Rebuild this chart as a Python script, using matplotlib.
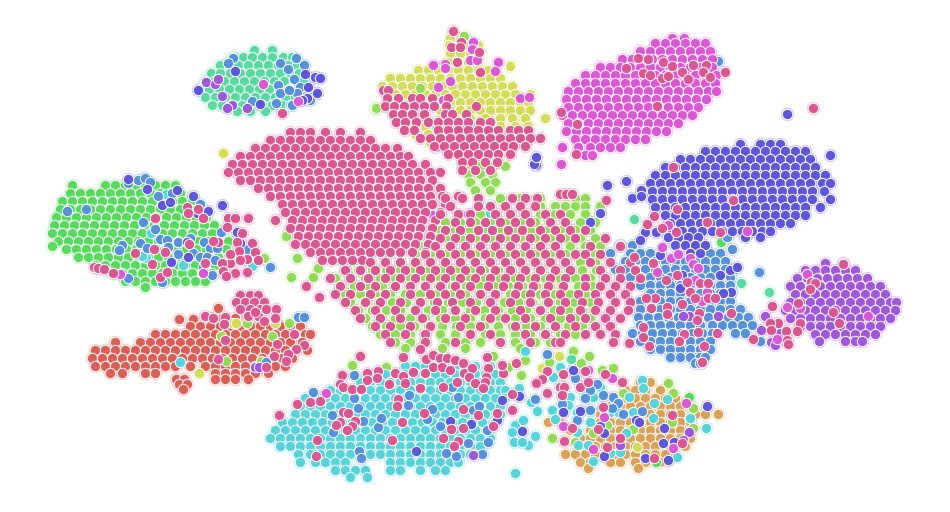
import matplotlib
matplotlib.use("Agg")
import matplotlib.pyplot as plt
import seaborn as sns

red = [(308,[218]),(319,[179,193]),(318,[210,222,235,248]),(326,[190,200,210,220,230,240,250,260,270,280,290,300]),
(334,[155,165,175,185,195,205,215,225,235,245,255,265,275,285,295,305,310]),
(342,[115,140,150,160,170,180,190,200,210,220,230,240,250,260,270,280,290,302]),
(350,[95,105,115,125,135,145,155,165,175,185,195,205,215,225,235,245,255,265,275,285,295,307]),
(358,[92,102,112,122,132,142,152,162,172,182,192,202,212,222,232,242,252,262,272,282,292]),
(366,[95,105,115,125,135,145,155,165,175,190,205,215,225,235,245,255,265,275,285]),
(373,[110,122,145,155,215,225,235,245,255,268]),(379,[215,225,235,248,176,184]),(384,[179,187]),(389,[183])]

orange = [(382,[640,650]),(390,[625,635,645,660]),(398,[615,625,635,645,655,665,675]),
(406,[610,620,630,640,650,660,670,680,690]),(414,[600,610,620,630,640,650,660,670,680,695,705,718]),
(422,[548,560,600,610,620,630,640,650,660,670,680,690]),(430,[570,590,600,610,620,630,640,650,660,670,680]),
(438,[580,590,600,610,620,630,640,650,660,670,680,690]),(446,[585,595,605,615,625,635,645,655,665,675,685]),
(454,[565,575,585,595,605,615,625,635,645,655,665]),(462,[580,590,610,620,635,645,660]),(468,[588,638])]

yellow = [(38,[450]),(45,[449,459,470,478]),(53,[450,460,470,480]),(62,[448,458,468,478]),(66,[510]),
(70,[418,428,438,448,458,468,478,488]),(78,[390,400,410,420,430,440,450,460,470,480,490,500]),
(86,[382,392,402,412,422,432,442,452,462,472,482,492,502,512]),
(94,[395,405,415,425,435,445,455,465,475,485,495,505,515,530]),
(102,[420,430,440,450,460,470,480,490,500,510,520,528]),(110,[440,450,460,470,480,490,500,510,520,530]),
(118,[445,455,470,485,500,512,525,545]),(126,[412,425,440,452,500,515,528]),(134,[415,428,440,520]),(142,[430,510]),
(153,[223]),(323,[232,236,275]),(373,[199]),(356,[559]),(368,[542]),(447,[637])]

lime = [(36,[464]),(88,[420]),(108,[375,376]),(103,[436]),(150,[468,478]),(158,[466,478,488,496]),(166,[465,480,490,505]),
(174,[468,480,492]),(182,[470,485,495]),(190,[475,490]),(198,[500,520,540,575,585]),
(206,[540,555,565,575,585,600]),(214,[480,495,510,525,540,555,570,585,600]),
(222,[445,460,475,490,505,520,535,550,565,580,595]),(230,[440,455,470,485,500,515,530,545,560,575,590]),
(238,[430,445,460,475,490,505,520,535,550,565,580,595]),(246,[420,435,450,465,480,495,510,525,540,555,570,585,600]),
(254,[400,415,430,445,460,475,490,505,520,535,550,565,580,595]),
(262,[355,370,385,400,415,430,445,460,475,490,505,520,535,550,565,580,595]),
(270,[345,358,372,386,400,414,428,442,456,470,484,498,512,526,540,554,568,582,596]),
(278,[335,350,365,380,395,410,425,440,455,470,485,500,515,530,545,560,575,590,605]),
(286,[340,354,368,382,396,410,424,438,452,466,480,494,508,522,536,550,564,578,592]),
(294,[345,360,375,390,405,420,435,450,465,480,495,510,525,540,555,570,585]),
(302,[350,364,378,392,406,420,434,448,462,476,490,504,518,532,546,560,574,590]),
(310,[358,372,386,400,414,428,442,456,470,484,498,512,526,540,554,568,582]),
(318,[365,380,395,410,425,440,455,470,485,500,515,530,545,560,575,590]),
(326,[372,386,400,414,428,442,456,470,484,498,512,526,540,554,568,582]),
(334,[380,395,410,425,440,455,470,485,500,515,530,545,560,575]),
(342,[395,410,425,445,465,480,500,515,535,550]),(348,[405,442,465,520]),
(258,[264,297]),(277,[291,313]),(268,[318]),(236,[286]),(323,[247,289]),(336,[221,272]),(361,[226,261]),
(365,[352]),(367,[386,508]),(356,[493,589]),(360,[525]),(375,[521]),(351,[573]),(362,[549]),(363,[581]),
(438,[552]),(393,[673,623]),(408,[693]),(429,[633]),(425,[607]),(422,[672]),(368,[613]),(370,[602]),(433,[593]),(442,[575]),(383,[668]),(428,[693])]

green = [(185,[72,105,115,125,135,145,155,165,175]),(193,[70,80,90,100,110,120,130,140,150,160,170,180]),
(201,[62,72,82,92,102,112,122,132,142,152,162,172,182,192]),(209,[60,70,80,90,100,110,120,130,140,150,160,170,180,190,200]),
(217,[56,66,76,86,96,106,116,126,136,146,156,166,176,186,196,206]),
(225,[54,64,74,84,94,104,114,124,134,144,154,164,174,184,194,204,214]),
(233,[52,62,72,82,92,102,112,122,132,142,152,162,172,182,192,202,212,222]),
(241,[58,68,78,88,98,108,118,128,138,148,158,168,178,188,198,208,218,228]),(246,[52]),
(249,[66,76,86,96,106,116,126,136,146,156,166,176,186,196,206,216,226]),
(257,[78,88,98,108,118,128,138,148,158,168,178,188,198,208,218,230]),
(265,[95,105,115,125,135,145,155,165,175,185,195,205,215]),(273,[112,122,132,142,152,162,172,182,192,202,212]),
(281,[125,135,145,155,165,175,185,195,205]),(287,[145]),(242,[721]),(462,[656]),(397,[689])]

teal = [(50,[254,272]),(57,[232,243,252,262,272,283,292]),(65,[220,229,238,248,258,268,278,288,297]),
(73,[211,220,230,240,250,260,270,280,290,299]),(81,[205,214,224,234,244,254,264,274,284,294,303]),
(89,[200,209,219,229,239,249,259,269,279,289,298]),(97,[205,215,225,235,245,255,265,275,285,295]),
(105,[212,222,232,242,252,262,272,282,290]),(111,[237,250,265]),(219,[634]),(283,[741]),(292,[769]),(359,[571])]

cyan = [(366,[405,415,425,435,445,455,475,490]),(374,[385,395,405,415,425,435,445,455,465,475,485,495]),
(382,[340,360,370,380,390,400,410,420,430,440,450,460,470,480,490,500]),
(390,[330,340,350,360,370,380,390,400,410,420,430,440,450,460,470,480,490,500,505]),
(398,[305,315,325,335,345,355,365,375,385,395,405,415,425,435,445,455,465,475,485,495,505]),
(406,[300,310,320,330,340,350,360,370,380,390,400,410,420,430,440,450,460,470,480,490,500]),
(414,[295,305,315,325,335,345,355,365,375,385,395,405,415,425,435,445,455,465,475,485,500]),
(422,[282,292,302,312,322,332,342,352,362,372,382,392,402,412,422,432,442,452,462,472,482,495]),
(430,[275,285,295,305,315,325,335,345,355,365,375,385,395,405,415,425,435,445,455,465,475,490]),
(438,[270,280,290,300,310,320,330,340,350,360,370,380,390,400,410,420,430,440,450,460,470,480,490]),
(446,[280,290,300,310,320,330,340,350,360,370,380,390,400,410,420,430,440,450,460,470,480]),
(454,[298,310,320,330,340,350,360,370,380,390,400,410,420,430,440,450,460,470]),
(462,[300,315,325,335,345,390,400,410,420,430,440,450,458]),(470,[335,345,355,365,390,400,420,435,445]),(477,[350,367]),
(351,[525]),(473,[515]),(441,[520]),(445,[528]),(440,[513]),(425,[515]),(420,[523]),(432,[512]),(436,[535]),(442,[514,522]),
(411,[537]),(402,[531]),(388,[519]),(380,[642]),(388,[643,560]),(397,[629,593,570]),(403,[654,617]),(399,[667]),(387,[600]),
(392,[585]),(377,[553]),(367,[560]),(410,[552]),(419,[555]),(412,[562,577,610,618,633]),(405,[568]),(422,[590]),(418,[653,690]),
(428,[706]),(433,[626]),(432,[577]),(445,[578,588]),(452,[620]),(453,[610]),(461,[593]),(457,[677]),
(362,[180]),(233,[151]),(258,[146]),(256,[142]),(194,[166]),(265,[183]),(266,[252]),(205,[489]),(213,[490])]

blue = [(245,[620,632,700]),(253,[610,630,640,650,660,710,720]),(261,[625,635,645,655,665,675,685,695,705,715,725]),
(269,[615,625,635,645,655,665,675,685,695,705,715,725,735]),(277,[620,630,640,650,660,670,680,690,700,710,720,730]),
(285,[640,650,660,670,680,690,700,710,720,730]),(293,[650,660,670,680,690,700,710,720,730]),
(301,[640,650,660,670,680,690,700,710,720,730]),(309,[640,650,660,670,680,690,700,710,720,730,740]),
(317,[638,648,658,668,678,688,698,708,718,728,738,748]),(325,[640,650,660,670,680,690,700,712,722,732,742,752]),
(333,[632,642,652,662,672,682,692,702,712,735,745]),(341,[640,650,660,670,680,690,700,710,760]),
(349,[650,660,670,680,690,700,710]),(357,[670,680,690,700,705]),(363,[695,700]),(272,[759]),(249,[732]),(237,[727]),
(183,[128]),(180,[138]),(178,[145]),(182,[150]),(196,[158]),(193,[172]),(211,[67]),(209,[86]),(222,[143]),(229,[155]),
(239,[160]),(240,[167]),(242,[178,204]),(238,[190]),(243,[140]),(245,[122]),(250,[119]),(248,[147,210,217]),(247,[168]),
(254,[178]),(253,[193]),(257,[200,207]),(260,[215]),(267,[203,270]),(275,[212]),(282,[162]),(278,[128]),(232,[221]),
(204,[200]),(249,[247]),(317,[298,304]),(362,[266]),(58,[233,296]),(63,[228,280]),(69,[288]),(65,[304]),(79,[294]),(87,[300]),
(85,[278]),(93,[280,297]),(90,[289]),(100,[310]),(105,[292]),(103,[276]),(101,[252]),(392,[313]),(375,[354]),(398,[354]),
(408,[358]),(415,[332]),(421,[363]),(427,[378]),(418,[381]),(432,[333]),(405,[408]),(395,[409]),(409,[432]),(419,[427]),
(426,[440]),(397,[458]),(387,[452]),(410,[473]),(406,[479]),(430,[487]),(442,[488]),(443,[468]),(453,[446]),(456,[456]),
(454,[482]),(451,[359]),(458,[361]),(378,[575]),(384,[597]),(390,[590]),(398,[585]),(395,[603]),(397,[613]),(403,[618]),
(408,[603,612]),(410,[590]),(414,[623]),(411,[642]),(404,[562]),(420,[577]),(399,[535]),(354,[547]),(61,[718]),(148,[507])]

indigo = [(144,[740,760,770,780]),(151,[705,715,725,735,745,755,765,775,785,795,805]),
(159,[680,690,700,710,720,730,740,750,760,770,780,790,800,810]),
(167,[665,675,685,695,705,715,725,735,745,755,765,775,785,795,805,815]),
(175,[655,665,675,685,695,705,715,725,735,745,755,765,775,785,795,805,815,825]),
(183,[650,660,670,680,690,700,710,720,730,740,750,760,770,780,790,800,810,822,830]),
(191,[652,662,672,682,692,702,712,722,732,742,752,762,772,782,792,802,812,824]),
(199,[652,662,672,682,692,702,712,722,732,742,752,762,772,782,792,802,812,830]),
(207,[655,665,675,685,695,705,715,725,735,745,755,765,775,785,795,805,820]),
(215,[665,675,685,695,705,715,725,735,745,755,765,775,785,795,805]),
(223,[670,680,690,700,710,720,730,740,750,760,770,780,790]),(231,[672,682,692,702,712,722,732,742,752,762,770]),
(237,[668,678,688,698,745,760]),(245,[675,685,695,705]),(253,[690,700]),
(114,[787]),(155,[830]),(185,[607]),(181,[626]),(198,[632]),(190,[641]),(196,[641]),(213,[600]),(222,[590]),(232,[645,656]),
(240,[640]),(255,[660]),(275,[720,682]),(270,[730]),(267,[737]),(292,[731]),(293,[723]),(288,[680]),
(71,[235]),(90,[198]),(77,[315]),(78,[320]),(87,[308]),(74,[305]),(93,[317]),(98,[307]),(100,[302]),(104,[260]),
(179,[128]),(189,[147]),(190,[177]),(196,[193]),(205,[162]),(202,[170]),(205,[222]),(211,[208]),(213,[197]),(257,[188]),
(262,[171]),(242,[187]),(232,[237]),(243,[240]),(421,[450]),(424,[471]),(451,[416]),(400,[502]),(396,[519]),(431,[522]),(420,[497]),
(370,[573]),(411,[580]),(412,[563]),(420,[636]),(422,[639]),(426,[600]),(433,[604]),(428,[664]),(406,[707]),(444,[620]),(443,[663]),
(442,[674]),(456,[604]),(458,[645]),(460,[668]),(165,[536]),(164,[534]),(157,[536])]

purple = [(263,[825,843]),(270,[805,815,825,835,845,855]),(278,[797,807,817,827,837,847,857,867]),
(286,[790,800,810,820,830,840,850,860,870,880]),(294,[795,805,815,825,835,845,855,865,875,885]),
(302,[790,800,810,820,830,840,850,860,870,880,890,896]),(310,[785,795,805,815,825,835,845,855,865,875,885,895]),
(318,[790,800,810,820,830,840,850,860,870,880,890]),(326,[800,810,820,830,840,850,860,870,880]),
(334,[815,825,835,845,855,865,875]),(341,[845,855,862,819]),(333,[780]),(316,[765,689,683,718]),(330,[761]),(342,[771]),(345,[775]),
(82,[206]),(84,[215]),(79,[218]),(96,[222]),(105,[232]),(108,[247,227]),(367,[255,259]),(455,[473]),(432,[689]),(440,[683]),(445,[620])]

magenta = [(38,[672,684]),(43,[655,665,675,685,695,705]),(51,[640,650,660,670,680,690,700,710]),
(59,[622,632,642,652,662,672,682,692,702,712]),(67,[600,610,620,630,640,650,660,670,680,690,700,712]),
(75,[585,595,605,615,625,635,645,655,665,675,685,695,705,716]),(83,[575,585,595,605,615,625,635,645,655,665,675,685,695,705,715]),
(91,[568,578,588,598,608,618,628,638,648,658,668,678,688,698,708,716]),
(99,[566,576,586,596,606,616,626,636,646,656,666,676,686,696,706]),
(107,[568,578,588,598,608,618,628,638,648,658,668,678,688,698]),
(115,[562,572,582,592,602,612,622,632,642,652,662,672,682,692]),
(123,[568,578,588,598,608,618,628,638,648,658,668,678]),(131,[566,576,586,596,606,616,626,636,646,656,666]),
(139,[575,585,595,605,615,625,635,645]),(147,[562,578,590,600,610,620]),(155,[585,592]),(164,[561]),
(42,[473]),(49,[472]),(60,[470,477]),(62,[498]),(65,[433]),(64,[445]),(68,[445]),(81,[450]),(87,[438]),(71,[495]),(98,[520]),
(97,[529]),(100,[443]),(84,[263]),(101,[298]),(274,[120,807]),(273,[203]),(393,[326]),(370,[588]),(378,[612]),(417,[604]),
(426,[563]),(449,[593]),(448,[673]),(403,[686]),(231,[747]),(225,[668]),(247,[662]),(258,[671]),(254,[678]),(258,[690]),
(264,[693]),(268,[698]),(272,[657]),(292,[707]),(301,[702]),(280,[695]),(307,[787]),(308,[800]),(316,[868]),(339,[777]),(215,[433]),(214,[468]),(147,[436])]

pink_top = [(132,[290,300,310,325,340,360]),(140,[270,280,290,300,310,320,330,340,350,360,370]),
(148,[255,265,275,285,295,305,315,325,335,345,355,365,375,385,397]),
(156,[240,250,260,270,280,290,300,310,320,330,340,350,360,370,380,390,400,408]),
(164,[232,242,252,262,272,282,292,302,312,322,332,342,352,362,372,382,392,402,412,425]),
(172,[228,238,248,258,268,278,288,298,308,318,328,338,348,358,368,378,388,398,408,418,430,440]),
(180,[240,250,260,270,280,290,300,310,320,330,340,350,360,370,380,390,400,410,420,432]),
(188,[258,268,278,288,298,308,318,328,338,348,358,368,378,388,398,408,418,428,440]),
(196,[270,280,290,300,310,320,330,340,350,360,370,380,390,400,410,420,430,442,458]),
(204,[282,292,302,312,322,332,342,352,362,372,382,392,402,412,422,432,445]),
(212,[285,295,305,315,325,335,345,355,365,375,385,395,405,415,425,440]),
(220,[275,292,302,312,322,332,342,352,362,372,382,392,402,412,422,435]),
(228,[290,300,310,320,330,340,350,360,370,380,390,400,410,420,432]),
(236,[298,308,318,328,338,348,358,368,378,388,398,408,418,430]),
(244,[295,305,315,325,335,345,355,365,375,385,395,405,415,428]),
(252,[310,320,330,340,350,360,370,380,390,400,412,425]),(260,[322,332,342,352,362])]

pink_center = [(194,[560,566,572]),(198,[445,462,478,512,525,537]),(206,[450,478,490,505,520,535]),
(214,[440,458,470,495,510,525,545,560]),(222,[455,470,485,500,515,530,550,565]),
(230,[445,460,478,492,508,522,540,555,570,585]),(238,[440,455,470,485,500,515,530,545,560,575,605]),
(246,[435,450,465,480,495,510,525,540,555,590,620]),(254,[425,440,455,470,485,500,515,530,545,560,575,585,600]),
(262,[370,385,400,415,430,445,460,475,490,505,520,535,550,565,590,610,630]),
(270,[345,360,375,390,405,420,435,450,465,480,495,510,525,540,555,570,600,620,635]),
(278,[330,350,368,385,400,415,430,445,460,475,490,505,520,535,550,565,585,605,620,640]),
(286,[340,360,375,395,410,425,440,455,470,488,503,518,533,548,563,585,600,615,630,306]),
(294,[335,350,370,385,410,430,445,460,480,495,515,530,545,560,578,595,610,625]),
(302,[345,365,380,400,420,437,452,470,490,510,530,548,565,582,598,615,630]),
(310,[355,375,395,415,435,455,475,495,520,540,560,580,595,610,628]),
(318,[360,380,400,422,445,465,490,505,525,550,570,585,605,620]),
(326,[375,390,410,430,460,480,515,535,555,575,595,610]),(334,[385,405,425,470,490,525,545,565,585,600,615]),
(342,[390,425,455,500,530,555,560])]

pink_yellow = [(31,[453]),(42,[461]),(47,[451,460]),(52,[479]),(62,[457]),(72,[480]),(90,[383,388]),
(98,[387,398,412,420,432,448]),(106,[385,394,404,414,424,434,446,476]),(114,[393,402,412,424,445,452,466]),
(122,[396,405,416,428,438,448,458,468,480,490]),(130,[404,414,438,448,458,468,478,488,498,510,518,528]),
(138,[420,430,440,450,460,470,480,490,500,510,520,530,540]),(146,[434,444,454,464,474,484,494,504,513,525]),
(154,[448,458,468,478,488,498,510]),(162,[462,472,485,497]),(170,[462,475,490])]

pink_misc = [(295,[240,250,258]),(302,[236,245,254,264]),(309,[240,250,260,266,276]),(316,[248,258,205]),(318,[213,275]),(317,[225]),
(324,[224]),(340,[225]),(359,[218]),(312,[255]),(321,[264]),(334,[294]),(344,[277]),(345,[304]),(349,[296]),(354,[288]),(356,[274]),(361,[286]),(367,[266]),
(207,[187]),(213,[188]),(209,[198]),(218,[203,155,228,235,248]),(244,[189]),(252,[165]),(249,[154]),(253,[135]),(264,[152]),
(277,[160]),(272,[167]),(267,[94]),(268,[98]),(269,[104]),(273,[113]),(263,[205,230,222]),(242,[218,237]),(241,[213]),(227,[227]),(233,[242]),(243,[252]),
(252,[255]),(251,[239]),(254,[230]),(259,[247]),(260,[258,240]),(271,[223]),(273,[235]),(272,[247]),(276,[226]),(297,[319]),
(113,[282]),(58,[638]),(59,[648]),(62,[663]),(68,[626]),(66,[672]),(65,[693,706]),(73,[643]),(75,[650]),(78,[662]),(76,[668]),
(72,[682,703,725]),(79,[688]),(77,[710]),(106,[657]),(124,[577]),(154,[576]),(112,[561]),
(167,[673]),(200,[733,606]),(209,[677]),(222,[707]),(232,[720,676]),(216,[654]),(224,[647]),(228,[662]),
(257,[634]),(263,[653]),(275,[677]),(280,[666]),(282,[687]),(283,[700,708]),(292,[690]),(298,[695,708,715,655,646]),(308,[651]),(307,[667]),
(314,[667]),(304,[682]),(313,[699,731]),(320,[697]),(333,[717]),(332,[698]),(334,[684]),(341,[679]),(346,[704,649]),(362,[702]),
(327,[643]),(337,[643]),(343,[629]),(342,[613]),(264,[843]),(282,[811]),(283,[815]),(289,[810]),(303,[798]),(306,[772]),(312,[833]),
(323,[839,800,778,770]),(331,[797]),(330,[771]),(331,[786]),(340,[787]),(344,[788]),(339,[753]),(108,[813])]

pink_cyan = [(349,[420]),(356,[360]),(357,[403,487]),(359,[426]),(355,[433]),(358,[440,447]),(360,[455]),(363,[463,516]),(375,[342]),(373,[367,395,425,464,503]),
(371,[378]),(378,[377]),(380,[367]),(376,[403]),(372,[413]),(367,[433,442]),(370,[450]),(368,[472,488]),(365,[502]),(377,[469,486]),
(382,[485]),(383,[405,475]),(382,[457]),(388,[483,420]),(387,[443]),(384,[389,340]),(387,[343]),(389,[352,361]),(394,[512]),(404,[297]),(402,[310]),
(401,[320]),(399,[398]),(406,[397]),(415,[279,478]),(412,[343]),(413,[348,424,497]),(409,[463]),(410,[512]),(421,[355]),(422,[340,402]),(425,[336]),(426,[352,493]),
(430,[347]),(429,[451]),(428,[463,572]),(440,[317,392]),(438,[443,620]),(441,[458,564]),(446,[454]),(456,[316]),(374,[563]),(387,[560,564,580]),(395,[562]),
(371,[547,585]),(379,[542]),(383,[536]),(393,[547]),(382,[588,622]),(374,[605]),(407,[603]),(429,[598]),(447,[607]),(415,[672]),(443,[682]),(458,[654])]

hue_names = ["red","orange","yellow","lime","green","teal","cyan","blue","indigo","purple","magenta","pink"]
groups = [red, orange, yellow, lime, green, teal, cyan, blue, indigo, purple, magenta,
          pink_top + pink_center + pink_yellow + pink_misc + pink_cyan]

palette = sns.hls_palette(len(hue_names), l=.6, s=.65)

fig, ax = plt.subplots(figsize=(9.5, 5.12), dpi=100)
fig.subplots_adjust(left=0, right=1, bottom=0, top=1)

# pale wash first, stands in for the overlapping white rings of the denser original
for rows, color in zip(groups, palette):
    xs = [x for y, row in rows for x in row]
    ys = [y for y, row in rows for x in row]
    ax.scatter(xs, ys, s=95, color=color, alpha=0.3, linewidth=0)

for name, rows, color in zip(hue_names, groups, palette):
    xs = [x for y, row in rows for x in row]
    ys = [y for y, row in rows for x in row]
    ax.scatter(xs, ys, s=56, color=color, edgecolor="white", linewidth=0.7, label=name)

ax.set_xlim(0, 950)
ax.set_ylim(512, 0)
ax.axis("off")

plt.savefig("out.png", dpi=100)
